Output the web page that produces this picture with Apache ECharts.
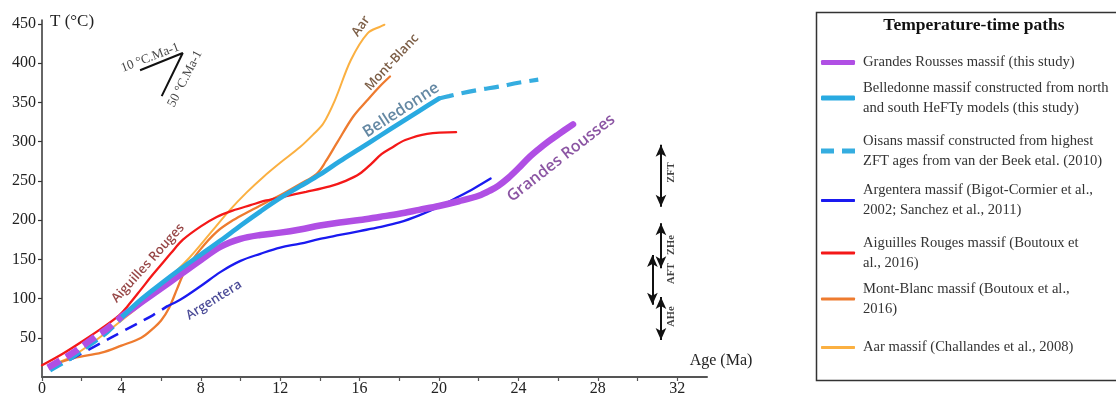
<!DOCTYPE html>
<html><head><meta charset="utf-8">
<script src="https://cdn.jsdelivr.net/npm/echarts@6/dist/echarts.min.js"></script>
<style>html,body{margin:0;padding:0;background:#fff}#c{width:1116px;height:396px}</style>
</head><body><div id="c"></div>
<script>
// ---------- data (age in Ma, temperature in °C) ----------
const xTickValues = [0,2,4,6,8,10,12,14,16,18,20,22,24,26,28,30,32];
const xLabelValues = [0,4,8,12,16,20,24,28,32];
const yTickValues = [50,100,150,200,250,300,350,400,450];

const grAgeDash  = [0.3,1.5,2.5,3.3,4.0];
const grTempDash = [12,30,48,62,77];
const grAge  = [4.0,5,6,7,8,9,10,11,12,13,14,15,16,17,18,19,20,21,22,22.6,23,23.5,24,24.5,25,25.5,26,26.75];
const grTemp = [77,95,113,131,149,166,176,181,184,188,193,197,200,204,208,213,218,224,231,238,244,254,266,279,290,300,309,322];

const belAgeDash  = [0.4,1.5,2.5,3.3,4.1];
const belTempDash = [9,25,43,58,78];
const belAge  = [4.1,5,6,7,8,9,10,11,12,13,14,15,16,17,18,19,20];
const belTemp = [78,99,119,138,156,174,193,211,228,243,258,275,291,307,323,339,355];

const oisAge  = [20,20.5,21,22,23,24,25];
const oisTemp = [355,358,361,366,370,375,379];

const argAgeDash  = [1.4,2.8,4.2,5.6,6.3];
const argTempDash = [22,41,60,79,90];
const argAge  = [6.3,7,8,9,10,11,12,13,14,15,16,17,18,19,20,21,21.8,22.6];
const argTemp = [90,99,116,134,148,157,165,170,176,181,186,191,197,206,217,230,241,253];

const arAge  = [0,1,2,3,3.9,4.3,5,5.5,6,6.5,7.1,8,8.8,9.6,10.5,11.3,12.2,13.3,14.5,15.3,16,16.6,17.1,17.6,18.3,19.4,20.86];
const arTemp = [15,29,45,62,79,90,112,128,143,158,175,192,204,212,219,225,230,236,243,250,259,272,284,292,302,310,312];

const mbAge  = [0.4,1.6,3,4,5,5.6,6.0,6.4,6.8,7.2,7.96,8.8,9.64,10.5,11.4,12.16,13,13.84,14.3,14.85,15.68,16.36,17,17.53];
const mbTemp = [14,24,31,40,50,62,72,88,112,135,162,185,200,212,224,234,246,259,275,298,332,352,370,383];

const aarAge  = [0.4,1.5,2.5,3.4,4.4,5.44,6.4,7.46,8.5,9.47,10.3,11.15,12,13,13.7,14.17,14.76,15.56,16.4,17.07,17.25];
const aarTemp = [15,26,43,60,80,102,126,153,184,213,235,255,273,293,310,323,353,404,438,447,449];

// cooling-rate reference lines (10 and 50 °C/Ma)
const rateAge  = [4.94,7.09,6.03];
const rateTemp = [391,413,358];

// thermochronometer closure windows (°C)
const windowNames = ['ZFT','ZHe','AFT','AHe'];
const windowLow   = [217,138.5,92,47];
const windowHigh  = [296,196,155.5,102];
const windowAge   = [31.18,31.18,30.75,31.18];

const legendTexts = {
  gr:  'Grandes Rousses massif (this study)',
  bel: 'Belledonne massif constructed from north\nand south HeFTy models (this study)',
  ois: 'Oisans massif constructed from highest\nZFT ages from van der Beek etal. (2010)',
  arg: 'Argentera massif (Bigot-Cormier et al.,\n2002; Sanchez et al., 2011)',
  ar:  'Aiguilles Rouges massif (Boutoux et\nal., 2016)',
  mb:  'Mont-Blanc massif (Boutoux et al.,\n2016)',
  aar: 'Aar massif (Challandes et al., 2008)'
};

// ---------- helpers ----------
const zip = (a, b) => a.map((v, i) => [v, b[i]]);
const C = {
  gr: '#b04fe4', bel: '#29aae1', ois: '#35ade0', arg: '#1a1af0',
  ar: '#f41818', mb: '#ee7b2f', aar: '#fbb041'
};
const serif = 'Liberation Serif';
const sans = 'Open Sans';

function lineSeries(name, data, color, width, dash, z) {
  return {
    name, type: 'line', data, smooth: 0.35, showSymbol: false, symbol: 'none',
    silent: true, z: z || 2, color,
    lineStyle: { color, width, type: dash || 'solid', cap: dash ? 'butt' : 'round' },
    itemStyle: { color, borderWidth: 0 },
    emphasis: { disabled: true }
  };
}

const annotations = [
  { name: 'Aar', value: [16.07, 447], label: { rotate: 55, color: '#5a3416', fontSize: 13 } },
  { name: 'Mont-Blanc', value: [17.63, 401], label: { rotate: 47, color: '#5a3416', fontSize: 13 } },
  { name: 'Belledonne', value: [18.09, 340], label: { rotate: 33, color: '#3d6a8c', fontSize: 16 } },
  { name: 'Aiguilles Rouges', value: [5.34, 145], label: { rotate: 48, color: '#7a1515', fontSize: 13 } },
  { name: 'Argentera', value: [8.66, 98], label: { rotate: 32, color: '#1c1c7c', fontSize: 13 } },
  { name: 'Grandes Rousses', value: [26.15, 279], label: { rotate: 38, color: '#6e2a8c', fontSize: 16 } },
  { name: '10 °C.Ma-1', value: [5.45, 407], label: { rotate: 21, color: '#111', fontSize: 13, fontFamily: serif, fontWeight: 'normal' } },
  { name: '50 °C.Ma-1', value: [7.2, 380], label: { rotate: 63, color: '#111', fontSize: 13, fontFamily: serif, fontWeight: 'normal' } }
];
const windowLabelTemp = [260.6, 168.2, 132, 76.9];
windowNames.forEach((n, i) => annotations.push({
  name: n, value: [31.72, windowLabelTemp[i]],
  label: { rotate: 90, color: '#111', fontSize: 10.5, fontWeight: 'bold', fontFamily: serif }
}));

function legendItem(key, yc, lines, icon, h) {
  return {
    show: true, selectedMode: false, orient: 'vertical', left: 821,
    top: yc - (lines === 2 ? 30 : 10), padding: 0, itemWidth: 34, itemHeight: h,
    icon, data: [key], itemStyle: { borderWidth: 0 },
    formatter: () => legendTexts[key],
    textStyle: {
      fontFamily: serif, fontSize: 14.6, color: '#333', lineHeight: 20,
      padding: lines === 2 ? [20, 0, 0, 3] : [0, 0, 0, 3]
    }
  };
}

const series = [
  lineSeries('aar', zip(aarAge, aarTemp), C.aar, 2, null, 2),
  lineSeries('mb', zip(mbAge, mbTemp), C.mb, 2.3, null, 3),
  lineSeries('ar', zip(arAge, arTemp), C.ar, 2.3, null, 4),
  lineSeries('argDash', zip(argAgeDash, argTempDash), C.arg, 2.6, [13, 8], 4),
  lineSeries('arg', zip(argAge, argTemp), C.arg, 2.3, null, 4),
  lineSeries('gr', zip(grAge, grTemp), C.gr, 6.5, null, 5),
  lineSeries('bel', zip(belAge, belTemp), C.bel, 4.7, null, 6),
  lineSeries('ois', zip(oisAge, oisTemp), C.ois, 4.2, [15, 8], 6),
  lineSeries('belDash', zip(belAgeDash, belTempDash), C.bel, 5, [14, 7], 7),
  lineSeries('grDash', zip(grAgeDash, grTempDash), C.gr, 6.5, [14, 7], 8),
  {
    name: 'rates', type: 'line', data: zip(rateAge, rateTemp), smooth: false,
    showSymbol: false, symbol: 'none', silent: true, z: 9,
    lineStyle: { color: '#111', width: 2 }, emphasis: { disabled: true },
    markLine: {
      silent: true, symbol: ['arrow', 'arrow'], symbolSize: [8, 12],
      label: { show: false },
      lineStyle: { color: '#111', width: 2, type: 'solid' },
      emphasis: { disabled: true },
      data: windowNames.map((n, i) => [
        { coord: [windowAge[i], windowLow[i]] },
        { coord: [windowAge[i], windowHigh[i]] }
      ])
    }
  },
  {
    name: 'labels', type: 'scatter', symbolSize: 0, silent: true, z: 10,
    data: annotations,
    label: {
      show: true, position: [0, 0], align: 'center', verticalAlign: 'middle',
      formatter: p => p.name, fontFamily: sans, fontWeight: 600
    },
    emphasis: { disabled: true }
  }
];

const option = {
  animation: false,
  backgroundColor: '#fff',
  grid: { left: 42, right: 409, top: 20, bottom: 19, outerBoundsMode: 'none', containLabel: false },
  xAxis: {
    type: 'value', min: 0, max: 33.5,
    name: 'Age (Ma)', nameLocation: 'end', nameGap: 14,
    nameTextStyle: { fontFamily: serif, fontSize: 16, color: '#222', align: 'center', verticalAlign: 'bottom', padding: [0, 0, 8, 0] },
    axisLine: { show: true, onZero: false, lineStyle: { color: '#555', width: 2 } },
    axisTick: { show: true, length: 4, customValues: xTickValues, lineStyle: { color: '#555', width: 1.2 } },
    axisLabel: { customValues: xLabelValues, fontFamily: serif, fontSize: 16, color: '#222', margin: 4 },
    splitLine: { show: false }
  },
  yAxis: {
    type: 'value', min: 0, max: 455,
    name: 'T (°C)', nameLocation: 'end', nameGap: -2,
    nameTextStyle: { fontFamily: serif, fontSize: 17, color: '#222', align: 'left', verticalAlign: 'middle', padding: [0, 0, 0, 8] },
    axisLine: { show: true, onZero: false, lineStyle: { color: '#333', width: 1.5 } },
    axisTick: { show: true, length: 4, customValues: yTickValues, lineStyle: { color: '#333', width: 1.2 } },
    axisLabel: { customValues: yTickValues, fontFamily: serif, fontSize: 16, color: '#222', margin: 6 },
    splitLine: { show: false }
  },
  legend: [
    legendItem('gr', 62.5, 1, 'roundRect', 5),
    legendItem('bel', 98, 2, 'roundRect', 5),
    legendItem('ois', 151, 2, 'path://M0,0H13V5H0Z M21,0H34V5H21Z', 5),
    legendItem('arg', 200.5, 2, 'roundRect', 3),
    legendItem('ar', 253, 2, 'roundRect', 3),
    legendItem('mb', 299, 2, 'roundRect', 3),
    legendItem('aar', 347.5, 1, 'roundRect', 3)
  ],
  graphic: [
    { type: 'rect', left: 814, top: 10, z: 0, silent: true,
      shape: { width: 320, height: 368 },
      style: { fill: 'none', stroke: '#333', lineWidth: 1.5 } },
    { type: 'text', silent: true, z: 1, x: 974, y: 25,
      style: { text: 'Temperature-time paths', align: 'center', verticalAlign: 'middle',
        font: 'bold 17.5px "Liberation Serif"', fill: '#111' } }
  ],
  series
};

const chart = echarts.init(document.getElementById('c'), null, { renderer: 'canvas' });
chart.setOption(option);
</script></body></html>
